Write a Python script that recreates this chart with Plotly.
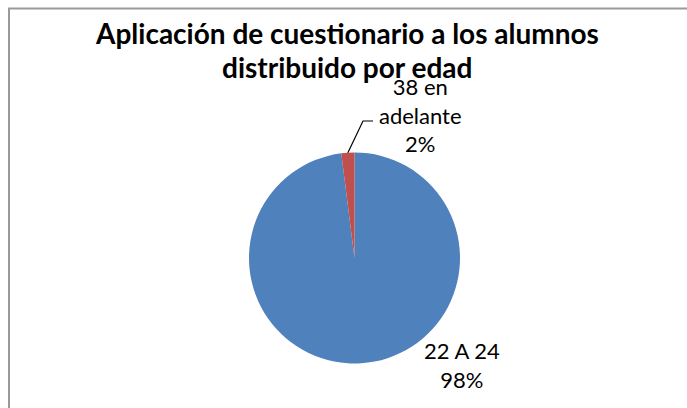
import math
import plotly.graph_objects as go

# ---- data ----
categories = ["22 A 24", "38 en adelante"]
values = [98, 2]
label_lines = [["22 A 24"], ["38 en", "adelante"]]
title_lines = ["Aplicación de cuestionario a los alumnos", "distribuido por edad"]
colors = ["#4F81BD", "#C0504D"]

W, H = 687, 408
cx, cy, r = 354.5, 258.0, 105.5  # pie centre / radius in px (from top)

fig = go.Figure()
fig.add_trace(go.Pie(
    labels=categories,
    values=values,
    sort=False,
    direction="clockwise",
    rotation=0,
    marker=dict(colors=colors, line=dict(width=0)),
    textinfo="none",
    hoverinfo="label+percent",
    showlegend=False,
    domain=dict(x=[(cx - r) / W, (cx + r) / W], y=[(H - cy - r) / H, (H - cy + r) / H]),
))

total = sum(values)
pcts = [f"{round(v / total * 100)}%" for v in values]

FONT = "Lato"
annotations = []
for line, ty in zip(title_lines, [33, 67]):
    annotations.append(dict(text="<b>" + line + "</b>", x=347 / W, y=1 - ty / H, xref="paper", yref="paper",
                            showarrow=False, font=dict(family=FONT, size=28, color="#000000"),
                            xanchor="center", yanchor="middle"))
annotations += [
    dict(text="<br>".join(label_lines[0] + [pcts[0]]), x=462 / W, y=1 - 365 / H, xref="paper", yref="paper",
         showarrow=False, font=dict(family=FONT, size=22, color="#000000"), align="center",
         xanchor="center", yanchor="middle"),
    dict(text="<br>".join(label_lines[1] + [pcts[1]]), x=420 / W, y=1 - 115 / H, xref="paper", yref="paper",
         showarrow=False, font=dict(family=FONT, size=22, color="#000000"), align="center",
         xanchor="center", yanchor="middle"),
]

# leader line for small slice, starting at its mid-angle on the rim
start_frac = values[0] / total
mid = (start_frac + values[1] / total / 2) * 2 * math.pi  # clockwise from top
px0 = cx + r * math.sin(mid)
py0 = cy - r * math.cos(mid)
path = f"M {px0/W} {1-py0/H} L {363/W} {1-121/H} L {373/W} {1-121/H}"

# chart frame: only top and left edges are visible in the crop
frame = f"M {9/W} 0 L {9/W} {1-8.5/H} L 1 {1-8.5/H}"

shapes = [
    dict(type="path", path=path, xref="paper", yref="paper", line=dict(color="#000000", width=1.2)),
    dict(type="path", path=frame, xref="paper", yref="paper", line=dict(color="#9a9a9a", width=2)),
]

fig.update_layout(
    width=W, height=H,
    margin=dict(l=0, r=0, t=0, b=0),
    paper_bgcolor="#ffffff", plot_bgcolor="#ffffff",
    annotations=annotations,
    shapes=shapes,
    font=dict(family=FONT),
)

fig.write_html(
    "out.html",
    config={"displayModeBar": False},
    post_script="document.body.style.margin='0';document.body.style.overflow='hidden';",
)
